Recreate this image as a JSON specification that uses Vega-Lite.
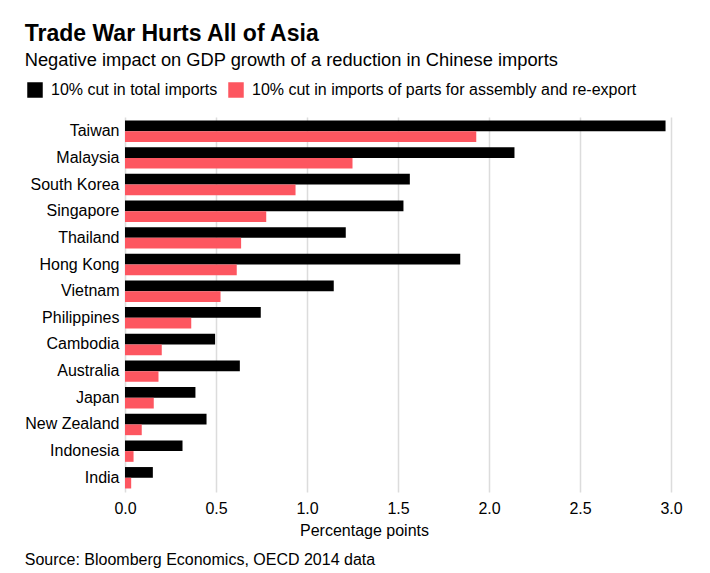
{
  "$schema": "https://vega.github.io/schema/vega-lite/v6.json",
  "background": "white",
  "padding": {"left": 24, "top": 22, "right": 10, "bottom": 4},
  "title": {
    "text": "Trade War Hurts All of Asia",
    "subtitle": "Negative impact on GDP growth of a reduction in Chinese imports",
    "anchor": "start",
    "font": "Liberation Sans",
    "fontSize": 23,
    "fontWeight": "bold",
    "color": "#000000",
    "subtitleFont": "Liberation Sans",
    "subtitleFontSize": 18.3,
    "subtitleColor": "#000000",
    "subtitlePadding": 6,
    "offset": 13
  },
  "config": {
    "view": {"stroke": null},
    "font": "Liberation Sans"
  },
  "vconcat": [
    {
      "width": 546,
      "height": 375,
      "title": {
        "text": "Source: Bloomberg Economics, OECD 2014 data",
        "orient": "bottom",
        "anchor": "start",
        "font": "Liberation Sans",
        "fontSize": 16,
        "fontWeight": "normal",
        "color": "#000000",
        "offset": 14,
        "dx": 0
      },
      "data": {
        "values": [
          {"country": "Taiwan", "series": "10% cut in total imports", "value": 2.97},
          {"country": "Taiwan", "series": "10% cut in imports of parts for assembly and re-export", "value": 1.93},
          {"country": "Malaysia", "series": "10% cut in total imports", "value": 2.14},
          {"country": "Malaysia", "series": "10% cut in imports of parts for assembly and re-export", "value": 1.25},
          {"country": "South Korea", "series": "10% cut in total imports", "value": 1.565},
          {"country": "South Korea", "series": "10% cut in imports of parts for assembly and re-export", "value": 0.937},
          {"country": "Singapore", "series": "10% cut in total imports", "value": 1.53},
          {"country": "Singapore", "series": "10% cut in imports of parts for assembly and re-export", "value": 0.776},
          {"country": "Thailand", "series": "10% cut in total imports", "value": 1.213},
          {"country": "Thailand", "series": "10% cut in imports of parts for assembly and re-export", "value": 0.638},
          {"country": "Hong Kong", "series": "10% cut in total imports", "value": 1.842},
          {"country": "Hong Kong", "series": "10% cut in imports of parts for assembly and re-export", "value": 0.614},
          {"country": "Vietnam", "series": "10% cut in total imports", "value": 1.147},
          {"country": "Vietnam", "series": "10% cut in imports of parts for assembly and re-export", "value": 0.525},
          {"country": "Philippines", "series": "10% cut in total imports", "value": 0.746},
          {"country": "Philippines", "series": "10% cut in imports of parts for assembly and re-export", "value": 0.364},
          {"country": "Cambodia", "series": "10% cut in total imports", "value": 0.495},
          {"country": "Cambodia", "series": "10% cut in imports of parts for assembly and re-export", "value": 0.202},
          {"country": "Australia", "series": "10% cut in total imports", "value": 0.631},
          {"country": "Australia", "series": "10% cut in imports of parts for assembly and re-export", "value": 0.184},
          {"country": "Japan", "series": "10% cut in total imports", "value": 0.387},
          {"country": "Japan", "series": "10% cut in imports of parts for assembly and re-export", "value": 0.158},
          {"country": "New Zealand", "series": "10% cut in total imports", "value": 0.448},
          {"country": "New Zealand", "series": "10% cut in imports of parts for assembly and re-export", "value": 0.092},
          {"country": "Indonesia", "series": "10% cut in total imports", "value": 0.316},
          {"country": "Indonesia", "series": "10% cut in imports of parts for assembly and re-export", "value": 0.047},
          {"country": "India", "series": "10% cut in total imports", "value": 0.153},
          {"country": "India", "series": "10% cut in imports of parts for assembly and re-export", "value": 0.034}
        ]
      },
      "mark": {"type": "bar"},
      "encoding": {
        "y": {
          "field": "country",
          "type": "nominal",
          "sort": ["Taiwan", "Malaysia", "South Korea", "Singapore", "Thailand", "Hong Kong", "Vietnam", "Philippines", "Cambodia", "Australia", "Japan", "New Zealand", "Indonesia", "India"],
          "scale": {"paddingInner": 0.196, "paddingOuter": 0.132},
          "axis": {
            "title": null,
            "ticks": false,
            "domain": false,
            "labelFont": "Liberation Sans",
            "labelFontSize": 16,
            "labelColor": "#000000",
            "labelPadding": 6
          }
        },
        "yOffset": {
          "field": "series",
          "type": "nominal",
          "sort": ["10% cut in total imports", "10% cut in imports of parts for assembly and re-export"],
          "scale": {"paddingInner": 0, "paddingOuter": 0}
        },
        "x": {
          "field": "value",
          "type": "quantitative",
          "scale": {"domain": [0, 3], "nice": false},
          "axis": {
            "title": "Percentage points",
            "values": [0, 0.5, 1, 1.5, 2, 2.5, 3],
            "format": ".1f",
            "labelFlush": false,
            "grid": true,
            "gridColor": "#dcdcdc",
            "gridWidth": 1.5,
            "ticks": false,
            "domain": false,
            "labelFont": "Liberation Sans",
            "labelFontSize": 16,
            "labelColor": "#000000",
            "labelPadding": 8,
            "titleFont": "Liberation Sans",
            "titleFontSize": 16,
            "titleFontWeight": "normal",
            "titleColor": "#000000",
            "titlePadding": 6,
            "titleX": 239
          }
        },
        "color": {
          "field": "series",
          "type": "nominal",
          "scale": {
            "domain": ["10% cut in total imports", "10% cut in imports of parts for assembly and re-export"],
            "range": ["#000000", "#fd5660"]
          },
          "legend": {
            "title": null,
            "orient": "none",
            "direction": "horizontal",
            "legendX": -98,
            "legendY": -35,
            "symbolType": "square",
            "symbolSize": 240,
            "symbolStrokeWidth": 0,
            "labelFont": "Liberation Sans",
            "labelFontSize": 16,
            "labelColor": "#000000",
            "labelOffset": 8,
            "columnPadding": 10,
            "labelLimit": 500
          }
        }
      }
    }
  ]
}
